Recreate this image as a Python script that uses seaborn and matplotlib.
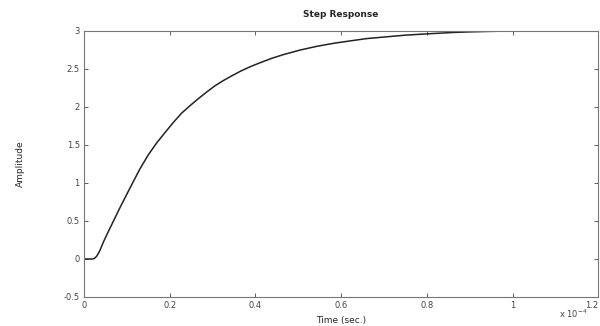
import seaborn as sns
import matplotlib.pyplot as plt
import pandas as pd

# time in units of 1e-4 s
time_e4 = [0, 0.02, 0.025, 0.03, 0.037, 0.045, 0.055, 0.065, 0.084, 0.104, 0.118,
           0.131, 0.15, 0.17, 0.19, 0.209, 0.228, 0.248, 0.267, 0.287, 0.306, 0.326,
           0.345, 0.365, 0.388, 0.41, 0.438, 0.466, 0.505, 0.545, 0.585, 0.622, 0.66,
           0.7, 0.75, 0.81, 0.86, 0.9, 0.95, 1.0, 1.1, 1.2]
amplitude = [0, 0, 0.01, 0.04, 0.11, 0.22, 0.34, 0.456, 0.676, 0.897, 1.05,
             1.19, 1.37, 1.53, 1.67, 1.80, 1.92, 2.02, 2.11, 2.20, 2.28, 2.35,
             2.41, 2.47, 2.53, 2.58, 2.64, 2.69, 2.75, 2.80, 2.84, 2.87, 2.90,
             2.92, 2.945, 2.965, 2.98, 2.988, 2.995, 3.0, 3.0, 3.0]
x_ticks = [0, 0.2, 0.4, 0.6, 0.8, 1, 1.2]
x_ticklabels = ["0", "0.2", "0.4", "0.6", "0.8", "1", "1.2"]
y_ticks = [-0.5, 0, 0.5, 1, 1.5, 2, 2.5, 3]
y_ticklabels = ["-0.5", "0", "0.5", "1", "1.5", "2", "2.5", "3"]

df = pd.DataFrame({"t": time_e4, "y": amplitude})

sns.set_theme(style="white")
plt.rcParams['font.family'] = ['DejaVu Sans']

fig = plt.figure(figsize=(6, 3.26), dpi=100)
ax = fig.add_axes([0.14, 0.089, 0.857, 0.816])
sns.lineplot(data=df, x="t", y="y", color="#222222", linewidth=1.1, ax=ax)

ax.set_xlim(0, 1.2)
ax.set_ylim(-0.5, 3)
ax.set_xticks(x_ticks)
ax.set_xticklabels(x_ticklabels)
ax.set_yticks(y_ticks)
ax.set_yticklabels(y_ticklabels)
ax.tick_params(direction="in", length=3, width=0.6, labelsize=6, colors="#444444",
               top=True, right=True, bottom=True, left=True, pad=3)
# keep the last x label inside the figure
ax.get_xticklabels()[-1].set_horizontalalignment("right")
for s in ax.spines.values():
    s.set_color("#777777")
    s.set_linewidth(0.8)

ax.set_title("Step Response", fontsize=6.5, fontweight="bold", pad=10)
ax.set_xlabel("Time (sec.)", fontsize=6.5, labelpad=4)
ax.set_ylabel("Amplitude", fontsize=6.5, labelpad=28)
fig.text(0.955, 0.025, r"x 10$^{-4}$", fontsize=6, color="#444444", ha="center")

fig.savefig("out.png", dpi=100)
